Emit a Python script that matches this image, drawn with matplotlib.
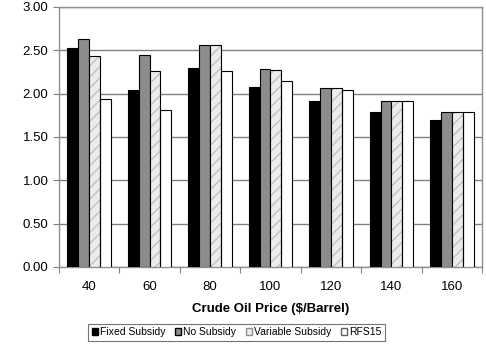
import numpy as np
import matplotlib
matplotlib.use('Agg')
import matplotlib.pyplot as plt
from matplotlib.patches import Patch

plt.rcParams['font.family'] = ['Liberation Sans', 'DejaVu Sans']

prices = ['40', '60', '80', '100', '120', '140', '160']
fixed = [2.53, 2.04, 2.29, 2.08, 1.91, 1.79, 1.69]
no_sub = [2.63, 2.44, 2.56, 2.28, 2.07, 1.92, 1.79]
variable = [2.43, 2.26, 2.56, 2.27, 2.06, 1.92, 1.79]
rfs15 = [1.94, 1.81, 2.26, 2.15, 2.04, 1.92, 1.79]

fig = plt.figure(figsize=(4.86, 3.48), dpi=100)
ax = fig.add_axes([0.121, 0.233, 0.871, 0.747])

x = np.arange(len(prices))
w = 0.18
offs = [-1.5 * w, -0.5 * w, 0.5 * w, 1.5 * w]

ax.bar(x + offs[0], fixed, w, color='black', edgecolor='black', lw=0.8, zorder=3)
ax.bar(x + offs[1], no_sub, w, color='#8c8c8c', edgecolor='black', lw=0.8, zorder=3)
# marbled look: hatch drawn in light grey, then black outline on top
ax.bar(x + offs[2], variable, w, color='#ececec', edgecolor='#c0c0c0', hatch='///', lw=0, zorder=3)
ax.bar(x + offs[2], variable, w, fill=False, edgecolor='black', lw=0.8, zorder=4)
ax.bar(x + offs[3], rfs15, w, color='white', edgecolor='black', lw=0.8, zorder=3)

ax.set_ylim(0, 3.0)
ax.set_xlim(-0.5, len(prices) - 0.5)
ax.set_yticks(np.arange(0, 3.01, 0.5))
ax.set_yticklabels(['%.2f' % v for v in np.arange(0, 3.01, 0.5)], fontsize=9.5)
ax.yaxis.grid(True, color='#808080', lw=1.0, zorder=0)
ax.set_axisbelow(True)

ax.set_xticks(np.arange(-0.5, len(prices), 1.0))
ax.set_xticklabels([])
ax.set_xticks(x, minor=True)
ax.set_xticklabels(prices, minor=True, fontsize=9.5)
ax.tick_params(axis='x', which='major', length=4, color='#808080')
ax.tick_params(axis='x', which='minor', length=0, pad=10)
ax.tick_params(axis='y', length=4, color='#808080')

for s in ax.spines.values():
    s.set_color('#909090')
    s.set_linewidth(1.0)

ax.set_xlabel('Crude Oil Price ($/Barrel)', fontsize=9.5, fontweight='bold', labelpad=7)

handles = [
    Patch(facecolor='black', edgecolor='black', label='Fixed Subsidy'),
    Patch(facecolor='#8c8c8c', edgecolor='black', label='No Subsidy'),
    Patch(facecolor='#ececec', edgecolor='#909090', label='Variable Subsidy'),
    Patch(facecolor='white', edgecolor='#606060', label='RFS15'),
]
leg = fig.legend(handles=handles, loc='center', bbox_to_anchor=(0.487, 0.045), ncol=4,
                 fontsize=7.5, frameon=True, fancybox=False, handlelength=0.6, handleheight=0.6,
                 handletextpad=0.2, columnspacing=0.9, borderpad=0.35)
leg.get_frame().set_edgecolor('#505050')
leg.get_frame().set_linewidth(0.8)

fig.savefig('out.png', dpi=100)
